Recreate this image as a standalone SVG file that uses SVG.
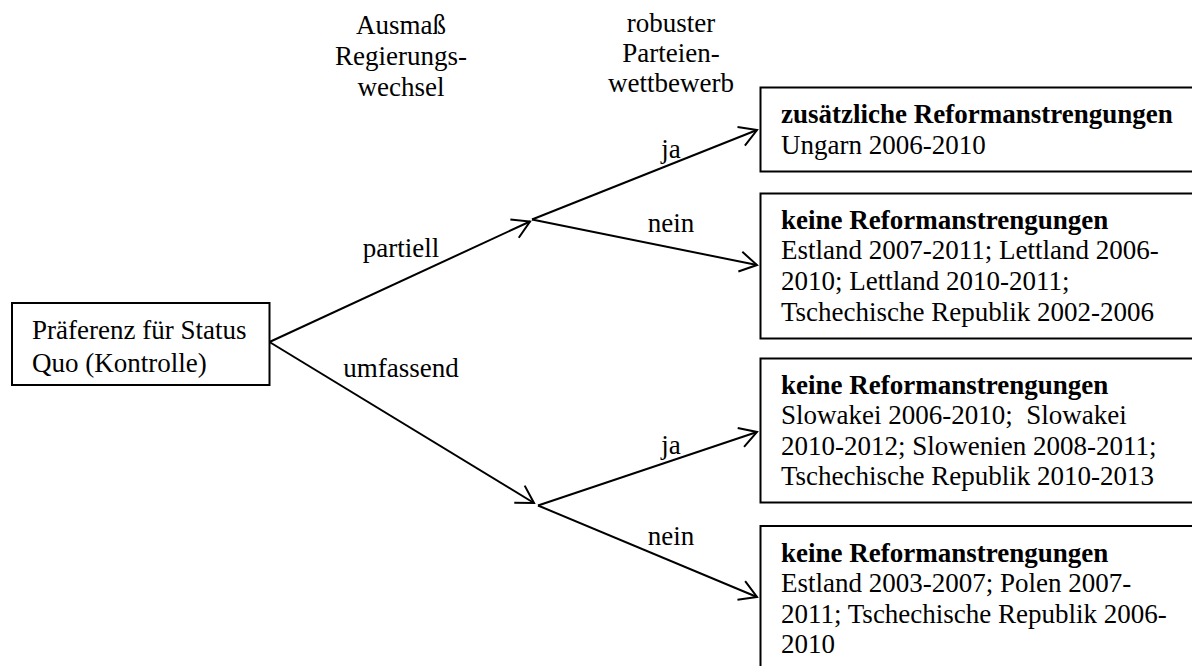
<svg xmlns="http://www.w3.org/2000/svg" width="1192" height="666" viewBox="0 0 1192 666">
<style>
text{font-family:"Liberation Serif","Times New Roman",serif;font-size:27px;fill:#000}
.b{font-weight:bold}
.c{text-anchor:middle}
.box{fill:#fff;stroke:#000;stroke-width:2}
.ln{fill:none;stroke:#000;stroke-width:2;marker-end:url(#arr)}
</style>
<defs>
<marker id="arr" markerUnits="userSpaceOnUse" markerWidth="40" markerHeight="40" refX="0" refY="0" orient="auto" overflow="visible">
<path d="M-17,-10 L0,0 L-17,10" fill="none" stroke="#000" stroke-width="2"/>
</marker>
</defs>
<rect width="1192" height="666" fill="#fff"/>
<g id="headings">
<text class="c" x="401" y="34">Ausmaß</text>
<text class="c" x="401" y="65">Regierungs-</text>
<text class="c" x="401" y="96">wechsel</text>
<text class="c" x="671" y="32">robuster</text>
<text class="c" x="671" y="62">Parteien-</text>
<text class="c" x="671" y="92">wettbewerb</text>
</g>
<g id="connectors">
<line class="ln" x1="269.5" y1="342" x2="530" y2="221.5"/>
<line class="ln" x1="269.5" y1="342" x2="534" y2="503"/>
<line class="ln" x1="532" y1="219.5" x2="757" y2="130"/>
<line class="ln" x1="532" y1="219.5" x2="757" y2="265"/>
<line class="ln" x1="538" y1="505.5" x2="757" y2="432"/>
<line class="ln" x1="538" y1="505.5" x2="757" y2="597"/>
<text class="c" x="401" y="257">partiell</text>
<text class="c" x="401" y="377">umfassend</text>
<text class="c" x="671" y="158">ja</text>
<text class="c" x="671" y="232">nein</text>
<text class="c" x="671" y="454">ja</text>
<text class="c" x="671" y="545">nein</text>
</g>
<g id="start">
<rect class="box" x="12" y="303" width="257.5" height="82"/>
<text x="32" y="338.5">Präferenz für Status</text>
<text x="32" y="371.5">Quo (Kontrolle)</text>
</g>
<g id="out1">
<rect class="box" x="760.5" y="87.5" width="440" height="84"/>
<text class="b" x="781" y="123">zusätzliche Reformanstrengungen</text>
<text x="781" y="153.5">Ungarn 2006-2010</text>
</g>
<g id="out2">
<rect class="box" x="760.5" y="193.5" width="440" height="145"/>
<text class="b" x="781" y="228.5">keine Reformanstrengungen</text>
<text x="781" y="259">Estland 2007-2011; Lettland 2006-</text>
<text x="781" y="289.5">2010; Lettland 2010-2011;</text>
<text x="781" y="320.5">Tschechische Republik 2002-2006</text>
</g>
<g id="out3">
<rect class="box" x="760.5" y="358.5" width="440" height="144"/>
<text class="b" x="781" y="393.5">keine Reformanstrengungen</text>
<text x="781" y="424" xml:space="preserve">Slowakei 2006-2010;  Slowakei</text>
<text x="781" y="454.5">2010-2012; Slowenien 2008-2011;</text>
<text x="781" y="485">Tschechische Republik 2010-2013</text>
</g>
<g id="out4">
<rect class="box" x="760.5" y="526" width="440" height="150"/>
<text class="b" x="781" y="561.5">keine Reformanstrengungen</text>
<text x="781" y="592">Estland 2003-2007; Polen 2007-</text>
<text x="781" y="622.5">2011; Tschechische Republik 2006-</text>
<text x="781" y="653">2010</text>
</g>
</svg>
